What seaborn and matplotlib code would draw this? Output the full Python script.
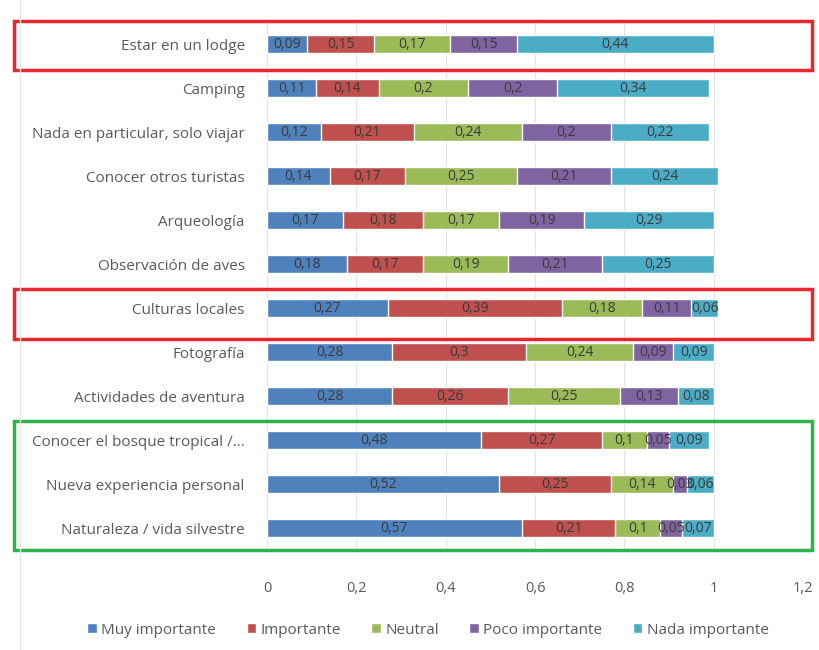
import matplotlib
matplotlib.use("Agg")
import matplotlib.pyplot as plt
import seaborn as sns
import pandas as pd
import numpy as np
from matplotlib.patches import Rectangle, Patch
from matplotlib.lines import Line2D

categories = [
    "Estar en un lodge",
    "Camping",
    "Nada en particular, solo viajar",
    "Conocer otros turistas",
    "Arqueología",
    "Observación de aves",
    "Culturas locales",
    "Fotografía",
    "Actividades de aventura",
    "Conocer el bosque tropical /...",
    "Nueva experiencia personal",
    "Naturaleza / vida silvestre",
]
series_names = ["Muy importante", "Importante", "Neutral", "Poco importante", "Nada importante"]
muy = [0.09, 0.11, 0.12, 0.14, 0.17, 0.18, 0.27, 0.28, 0.28, 0.48, 0.52, 0.57]
imp = [0.15, 0.14, 0.21, 0.17, 0.18, 0.17, 0.39, 0.30, 0.26, 0.27, 0.25, 0.21]
neu = [0.17, 0.20, 0.24, 0.25, 0.17, 0.19, 0.18, 0.24, 0.25, 0.10, 0.14, 0.10]
poco = [0.15, 0.20, 0.20, 0.21, 0.19, 0.21, 0.11, 0.09, 0.13, 0.05, 0.03, 0.05]
nada = [0.44, 0.34, 0.22, 0.24, 0.29, 0.25, 0.06, 0.09, 0.08, 0.09, 0.06, 0.07]
xticks = [0, 0.2, 0.4, 0.6, 0.8, 1.0, 1.2]
xtick_labels = ["0", "0,2", "0,4", "0,6", "0,8", "1", "1,2"]
colors = ["#4F81BD", "#C0504D", "#9BBB59", "#8064A2", "#4BACC6"]

sns.set_style("white")
plt.rcParams["font.family"] = ["Open Sans", "DejaVu Sans"]

series = [muy, imp, neu, poco, nada]
df = pd.DataFrame({"cat": categories})
for name, vals in zip(series_names, series):
    df[name] = vals
cum = df[series_names].cumsum(axis=1)

fig = plt.figure(figsize=(8.19, 6.5), dpi=100)
ax = fig.add_axes([267 / 819, 1 - 550 / 650, (803 - 267) / 819, (550 - 22) / 650])

for i in range(len(series_names) - 1, -1, -1):
    sns.barplot(x=cum[series_names[i]], y=df["cat"], color=colors[i], orient="h",
                width=0.4, ax=ax, order=categories, saturation=1, zorder=3)

for r, cat in enumerate(categories):
    for i, name in enumerate(series_names):
        v = df.loc[r, name]
        c = cum.loc[r, name]
        lab = f"{v:g}".replace(".", ",")
        ax.text(c - v / 2, r, lab, ha="center", va="center", fontsize=10,
                color="#3a3a3a", zorder=5)

ax.set_xlim(0, 1.2)
ax.set_ylim(len(categories) - 0.5, -0.5)
ax.set_xticks(xticks)
ax.set_xticklabels(xtick_labels, fontsize=10.5, color="#595959")
ax.tick_params(axis="x", length=0, pad=22)
ax.tick_params(axis="y", length=0, pad=16, labelsize=11, labelcolor="#595959")
ax.set_xlabel("")
ax.set_ylabel("")
ax.grid(axis="x", color="#e3e3e3", linewidth=0.8, zorder=0)
ax.set_axisbelow(True)
for s in ax.spines.values():
    s.set_visible(False)

handles = [Patch(facecolor=c, label=n) for c, n in zip(colors, series_names)]
leg = fig.legend(handles=handles, loc="center", bbox_to_anchor=(428 / 819, 1 - 630 / 650),
                 ncol=5, frameon=False, fontsize=11, handlelength=0.6, handleheight=0.6,
                 handletextpad=0.3, columnspacing=2.0)
for t in leg.get_texts():
    t.set_color("#595959")

# faint outer chart border line on the left
fig.add_artist(Line2D([20 / 819, 20 / 819], [0, 1], color="#e6e6e6", linewidth=1))

def box(x0, y0, x1, y1, col):
    fig.add_artist(Rectangle((x0 / 819, 1 - y1 / 650), (x1 - x0) / 819, (y1 - y0) / 650,
                             fill=False, edgecolor=col, linewidth=2.5))

box(14, 21, 812, 70, "#E8262B")
box(14, 289, 812, 339, "#E8262B")
box(14, 421, 812, 550, "#2DB34A")

fig.savefig("out.png", dpi=100, facecolor="white")
